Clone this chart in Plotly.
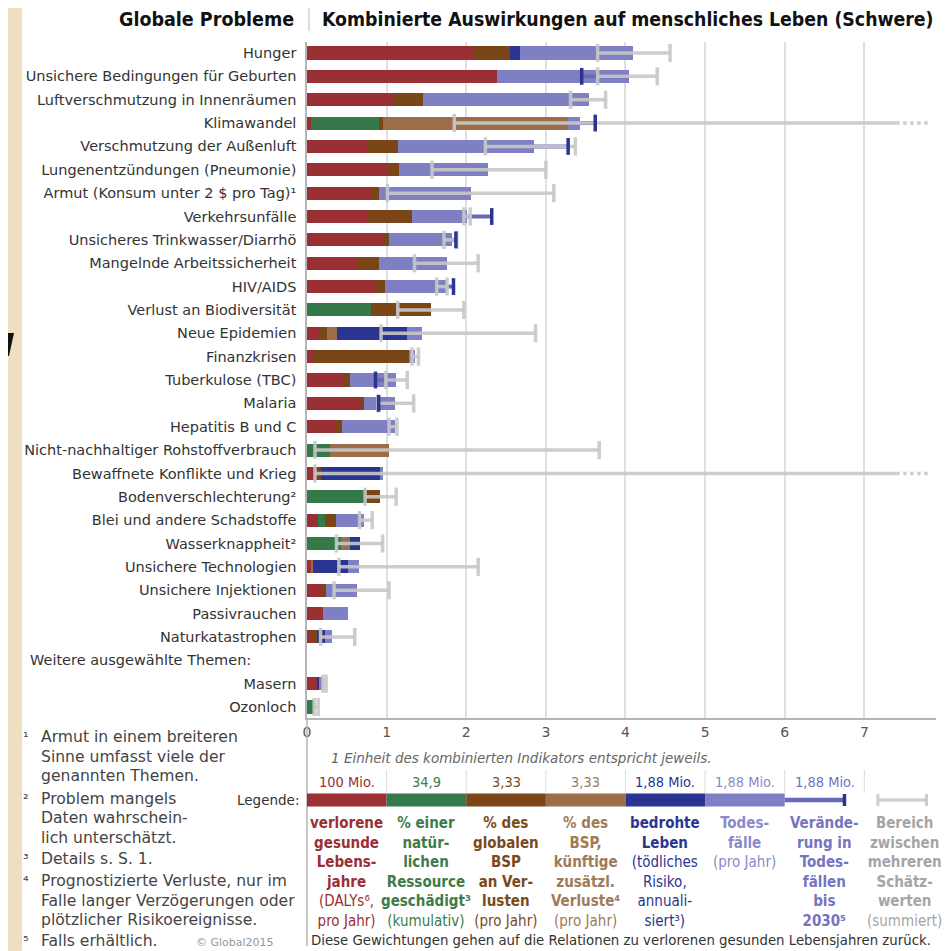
import plotly.graph_objects as go

# ---------------- DATA ----------------
categories = [
    "Hunger", "Unsichere Bedingungen für Geburten", "Luftverschmutzung in Innenräumen",
    "Klimawandel", "Verschmutzung der Außenluft", "Lungenentzündungen (Pneumonie)",
    "Armut (Konsum unter 2 $ pro Tag)¹", "Verkehrsunfälle", "Unsicheres Trinkwasser/Diarrhö",
    "Mangelnde Arbeitssicherheit", "HIV/AIDS", "Verlust an Biodiversität", "Neue Epidemien",
    "Finanzkrisen", "Tuberkulose (TBC)", "Malaria", "Hepatitis B und C",
    "Nicht-nachhaltiger Rohstoffverbrauch", "Bewaffnete Konflikte und Krieg",
    "Bodenverschlechterung²", "Blei und andere Schadstoffe", "Wasserknappheit²",
    "Unsichere Technologien", "Unsichere Injektionen", "Passivrauchen", "Naturkatastrophen",
    "", "Masern", "Ozonloch",
]
section_label = "Weitere ausgewählte Themen:"

# segment widths (units of combined indicator)
dalys = [2.10, 2.385, 1.09, 0.054, 0.77, 1.00, 0.82, 0.77, 0.95, 0.63, 0.87, 0, 0.16, 0.075,
         0.47, 0.69, 0.35, 0, 0.08, 0, 0.14, 0, 0.054, 0.19, 0.20, 0.054, 0, 0.12, 0]
resource = [0, 0, 0, 0.856, 0, 0, 0, 0, 0, 0, 0, 0.80, 0, 0, 0, 0, 0, 0.29, 0, 0.72, 0.09,
            0.43, 0, 0, 0, 0, 0, 0, 0.09]
gdp_loss = [0.45, 0, 0.37, 0.04, 0.37, 0.16, 0.08, 0.55, 0.08, 0.27, 0.11, 0.76, 0.09, 1.205,
            0.07, 0.02, 0.09, 0, 0.10, 0.20, 0.14, 0, 0, 0.05, 0, 0.076, 0, 0, 0]
future_gdp = [0, 0, 0, 2.33, 0, 0, 0, 0, 0, 0, 0, 0, 0.13, 0, 0, 0, 0, 0.74, 0, 0, 0, 0.11,
              0.026, 0, 0, 0, 0, 0, 0]
lives_threat = [0.13, 0, 0, 0, 0, 0, 0, 0, 0, 0, 0, 0, 0.88, 0, 0, 0, 0, 0, 0.74, 0, 0, 0.12,
                0.44, 0, 0, 0.09, 0, 0.03, 0]
deaths = [1.42, 1.655, 2.08, 0.15, 1.71, 1.11, 1.16, 0.69, 0.79, 0.86, 0.78, 0, 0.19, 0.08,
          0.58, 0.40, 0.66, 0, 0.03, 0, 0.35, 0, 0.13, 0.39, 0.32, 0.09, 0, 0.05, 0]
# value reached including change in deaths until 2030 (None = not available)
change_2030 = [None, 3.45, None, 3.62, 3.28, None, None, 2.32, 1.87, None, 1.84, None, None,
               None, 0.86, 0.90, None, None, None, None, None, None, None, None, None, None,
               None, None, None]
# range between several estimates ("open" = extends beyond the axis)
range_lo = [3.65, 3.65, 3.31, 1.85, 2.24, 1.57, 1.01, 1.97, 1.72, 1.35, 1.63, 1.14, 0.93, 1.32,
            0.99, 0.89, 1.03, 0.10, 0.10, 0.73, 0.66, 0.37, 0.40, 0.34, None, 0.17, None, 0.20,
            0.09]
range_hi = [4.56, 4.40, 3.75, "open", 3.37, 3.00, 3.10, 2.05, 1.88, 2.15, 1.76, 1.97, 2.87,
            1.40, 1.26, 1.34, 1.13, 3.67, "open", 1.12, 0.82, 0.95, 2.15, 1.03, None, 0.60,
            None, 0.24, 0.14]

x_ticks = [0, 1, 2, 3, 4, 5, 6, 7]
legend_units = ["100 Mio.", "34,9", "3,33", "3,33", "1,88 Mio.", "1,88 Mio.", "1,88 Mio.", ""]

# ---------------- STYLE ----------------
C_RED = "#9a2f34"
C_GREEN = "#35784a"
C_BROWN = "#7a4618"
C_LBROWN = "#9b6d49"
C_DBLUE = "#2a3591"
C_PURPLE = "#7f7fc4"
C_CHANGE = "#6a6ab8"
C_GRAY = "rgba(200,200,200,0.9)"
FONT = "DejaVu Sans"
FONT_C = "DejaVu Sans Condensed, Liberation Sans Narrow, DejaVu Sans"

OFF = 8            # page body margin of the browser
W, H = 943, 943
# plot area in reference pixel coordinates
L, R, T, B = 307, 936, 42, 718
PW, PH = R - L, B - T
X_MAX = 7.9
AXIS_BREAK = 7.4
OPEN_END = 7.82


def px(x):
    return (x - L) / PW


def py(y):
    return (B - y) / PH


ypos = list(range(len(categories)))
fig = go.Figure()

series = [
    (dalys, C_RED), (resource, C_GREEN), (gdp_loss, C_BROWN),
    (future_gdp, C_LBROWN), (lives_threat, C_DBLUE), (deaths, C_PURPLE),
]
for vals, col in series:
    fig.add_trace(go.Bar(
        x=vals, y=ypos, orientation="h", marker=dict(color=col, line=dict(width=0)),
        width=0.56, showlegend=False, hoverinfo="skip",
    ))

totals = [sum(v) for v in zip(dalys, resource, gdp_loss, future_gdp, lives_threat, deaths)]

# change until 2030
cx, cy, capx, capy = [], [], [], []
for i, c in enumerate(change_2030):
    if c is None:
        continue
    cx += [totals[i], c, None]
    cy += [i, i, None]
    capx.append(c)
    capy.append(i)
fig.add_trace(go.Scatter(x=cx, y=cy, mode="lines", line=dict(color=C_CHANGE, width=4),
                         showlegend=False, hoverinfo="skip"))

# ranges
rx, ry, rcx, rcy, ox, oy = [], [], [], [], [], []
for i, (lo, hi) in enumerate(zip(range_lo, range_hi)):
    if lo is None:
        continue
    if hi == "open":
        rx += [lo, AXIS_BREAK, None]
        ry += [i, i, None]
        rcx.append(lo)
        rcy.append(i)
        ox += [AXIS_BREAK, OPEN_END, None]
        oy += [i, i, None]
    else:
        rx += [lo, hi, None]
        ry += [i, i, None]
        rcx += [lo, hi]
        rcy += [i, i]
fig.add_trace(go.Scatter(x=rx, y=ry, mode="lines", line=dict(color=C_GRAY, width=3.5),
                         showlegend=False, hoverinfo="skip"))
fig.add_trace(go.Scatter(x=ox, y=oy, mode="lines", line=dict(color=C_GRAY, width=3.5, dash="dot"),
                         showlegend=False, hoverinfo="skip"))
fig.add_trace(go.Scatter(x=rcx, y=rcy, mode="markers",
                         marker=dict(symbol="line-ns-open", size=13, color=C_GRAY,
                                     line=dict(color=C_GRAY, width=3.5)),
                         showlegend=False, hoverinfo="skip"))
fig.add_trace(go.Scatter(x=capx, y=capy, mode="markers",
                         marker=dict(symbol="line-ns-open", size=12, color=C_DBLUE,
                                     line=dict(color=C_DBLUE, width=3.5)),
                         showlegend=False, hoverinfo="skip"))

shapes = []
annotations = []

# beige strip at the left
shapes.append(dict(type="rect", xref="paper", yref="paper", x0=px(0), x1=px(22), y0=py(951), y1=py(0),
                   fillcolor="#eedfc0", line=dict(width=0), layer="below"))
shapes.append(dict(type="path", xref="paper", yref="paper",
                   path=f"M {px(7)} {py(333)} L {px(14)} {py(333)} L {px(9)} {py(356)} L {px(7)} {py(356)} Z",
                   fillcolor="#111111", line=dict(width=0)))

# title
annotations.append(dict(text="<b>Globale Probleme</b>", xref="paper", yref="paper", x=px(296), y=py(19),
                        xanchor="right", yanchor="middle", showarrow=False,
                        font=dict(family=FONT_C, size=19.5, color="#111")))
annotations.append(dict(text="<b>Kombinierte Auswirkungen auf menschliches Leben (Schwere)</b>",
                        xref="paper", yref="paper", x=px(320), y=py(19), xanchor="left", yanchor="middle",
                        showarrow=False, font=dict(family=FONT_C, size=19.3, color="#111")))
shapes.append(dict(type="line", xref="paper", yref="paper", x0=px(309), x1=px(309), y0=py(7), y1=py(31),
                   line=dict(color="#bbbbbb", width=1)))

# section label
annotations.append(dict(text=section_label, xref="paper", yref="y", x=px(28), y=categories.index(""),
                        xanchor="left", yanchor="middle", showarrow=False,
                        font=dict(family=FONT, size=14.5, color="#333")))

# axis line continuing through legend
shapes.append(dict(type="line", xref="paper", yref="paper", x0=0, x1=0, y0=py(718), y1=py(946),
                   line=dict(color="#b5b5b5", width=1.5)))

annotations.append(dict(text="<i>1 Einheit des kombinierten Indikators entspricht jeweils.</i>",
                        xref="paper", yref="paper", x=px(329), y=py(758), xanchor="left", yanchor="middle",
                        showarrow=False, font=dict(family=FONT, size=13.5, color="#666")))

# legend
legend_colors = [C_RED, C_GREEN, C_BROWN, C_LBROWN, C_DBLUE, C_PURPLE]
text_colors = ["#9a2f34", "#3d7c48", "#7a4a1c", "#a07a57", "#2a3591", "#8a8acb", "#7474bf", "#a5a5a5"]
legend_texts = [
    "<b>verlorene<br>gesunde<br>Lebens-<br>jahre</b><br>(DALYs⁶,<br>pro Jahr)",
    "<b>% einer<br>natür-<br>lichen<br>Ressource<br>geschädigt³</b><br>(kumulativ)",
    "<b>% des<br>globalen<br>BSP<br>an Ver-<br>lusten</b><br>(pro Jahr)",
    "<b>% des<br>BSP,<br>künftige<br>zusätzl.<br>Verluste⁴</b><br>(pro Jahr)",
    "<b>bedrohte<br>Leben</b><br>(tödliches<br>Risiko,<br>annuali-<br>siert³)",
    "<b>Todes-<br>fälle</b><br>(pro Jahr)",
    "<b>Verände-<br>rung in<br>Todes-<br>fällen<br>bis<br>2030⁵</b>",
    "<b>Bereich<br>zwischen<br>mehreren<br>Schätz-<br>werten</b><br>(summiert)",
]
annotations.append(dict(text="Legende:", xref="paper", yref="paper", x=px(301), y=py(800),
                        xanchor="right", yanchor="middle", showarrow=False,
                        font=dict(family=FONT, size=13.5, color="#333")))
for i in range(8):
    if legend_units[i]:
        annotations.append(dict(text=legend_units[i], xref="x", yref="paper", x=i + 0.5, y=py(782),
                                xanchor="center", yanchor="middle", showarrow=False,
                                font=dict(family=FONT_C, size=14.5, color=text_colors[i])))
    annotations.append(dict(text=legend_texts[i], xref="x", yref="paper", x=i + 0.5, y=py(812),
                            xanchor="center", yanchor="top", showarrow=False, align="center",
                            font=dict(family=FONT_C, size=15, color=text_colors[i])))
    if i > 0:
        shapes.append(dict(type="line", xref="x", yref="paper", x0=i, x1=i, y0=py(770), y1=py(793),
                           line=dict(color="#dddddd", width=1)))
for i, col in enumerate(legend_colors):
    shapes.append(dict(type="rect", xref="x", yref="paper", x0=i, x1=i + 1, y0=py(806.5), y1=py(793.5),
                       fillcolor=col, line=dict(width=0)))
shapes.append(dict(type="line", xref="x", yref="paper", x0=6, x1=6.75, y0=py(800), y1=py(800),
                   line=dict(color=C_CHANGE, width=4.5)))
shapes.append(dict(type="line", xref="x", yref="paper", x0=6.75, x1=6.75, y0=py(794), y1=py(806),
                   line=dict(color=C_DBLUE, width=3.5)))
shapes.append(dict(type="line", xref="x", yref="paper", x0=7.17, x1=7.78, y0=py(800), y1=py(800),
                   line=dict(color=C_GRAY, width=3)))
for xx in (7.17, 7.78):
    shapes.append(dict(type="line", xref="x", yref="paper", x0=xx, x1=xx, y0=py(794), y1=py(806),
                       line=dict(color=C_GRAY, width=3)))

annotations.append(dict(text="Diese Gewichtungen gehen auf die Relationen zu verlorenen gesunden Lebensjahren zurück.",
                        xref="paper", yref="paper", x=px(309), y=py(940), xanchor="left", yanchor="middle",
                        showarrow=False, font=dict(family=FONT, size=13.3, color="#333")))

# footnotes
foot = [
    ("¹", "Armut in einem breiteren", 737), (None, "Sinne umfasst viele der", 757),
    (None, "genannten Themen.", 776), ("²", "Problem mangels", 799), (None, "Daten wahrschein-", 818),
    (None, "lich unterschätzt.", 838), ("³", "Details s. S. 1.", 859),
    ("⁴", "Prognostizierte Verluste, nur im", 881), (None, "Falle langer Verzögerungen oder", 901),
    (None, "plötzlicher Risikoereignisse.", 920), ("⁵", "Falls erhältlich.", 941),
]
for num, txt, yy in foot:
    if num:
        annotations.append(dict(text=num, xref="paper", yref="paper", x=px(21), y=py(yy),
                                xanchor="left", yanchor="middle", showarrow=False,
                                font=dict(family=FONT, size=14, color="#444")))
    annotations.append(dict(text=txt, xref="paper", yref="paper", x=px(39), y=py(yy),
                            xanchor="left", yanchor="middle", showarrow=False,
                            font=dict(family=FONT, size=15.6, color="#444")))
annotations.append(dict(text="© Global2015", xref="paper", yref="paper", x=px(276), y=py(942),
                        xanchor="right", yanchor="middle", showarrow=False,
                        font=dict(family=FONT, size=11, color="#999")))

fig.update_layout(
    width=W, height=H,
    margin=dict(l=L - OFF, r=W - (R - OFF), t=T - OFF, b=H - (B - OFF), pad=0),
    paper_bgcolor="white", plot_bgcolor="white",
    barmode="stack", bargap=0,
    shapes=shapes, annotations=annotations,
    showlegend=False,
    xaxis=dict(range=[0, X_MAX], tickvals=x_ticks, ticktext=[str(t) for t in x_ticks],
               showgrid=True, gridcolor="#e0e0e0", gridwidth=1.5, zeroline=False,
               showline=True, linecolor="#b5b5b5", linewidth=1.5, ticks="",
               tickfont=dict(family=FONT, size=14, color="#555"), fixedrange=True),
    yaxis=dict(range=[len(categories) - 0.53, -0.47], tickvals=ypos, ticktext=categories,
               showgrid=False, zeroline=False, showline=True, linecolor="#b5b5b5", linewidth=1.5,
               ticks="", ticklabelstandoff=6,
               tickfont=dict(family=FONT, size=14.5, color="#333"), fixedrange=True),
)

fig.write_html("out.html")
